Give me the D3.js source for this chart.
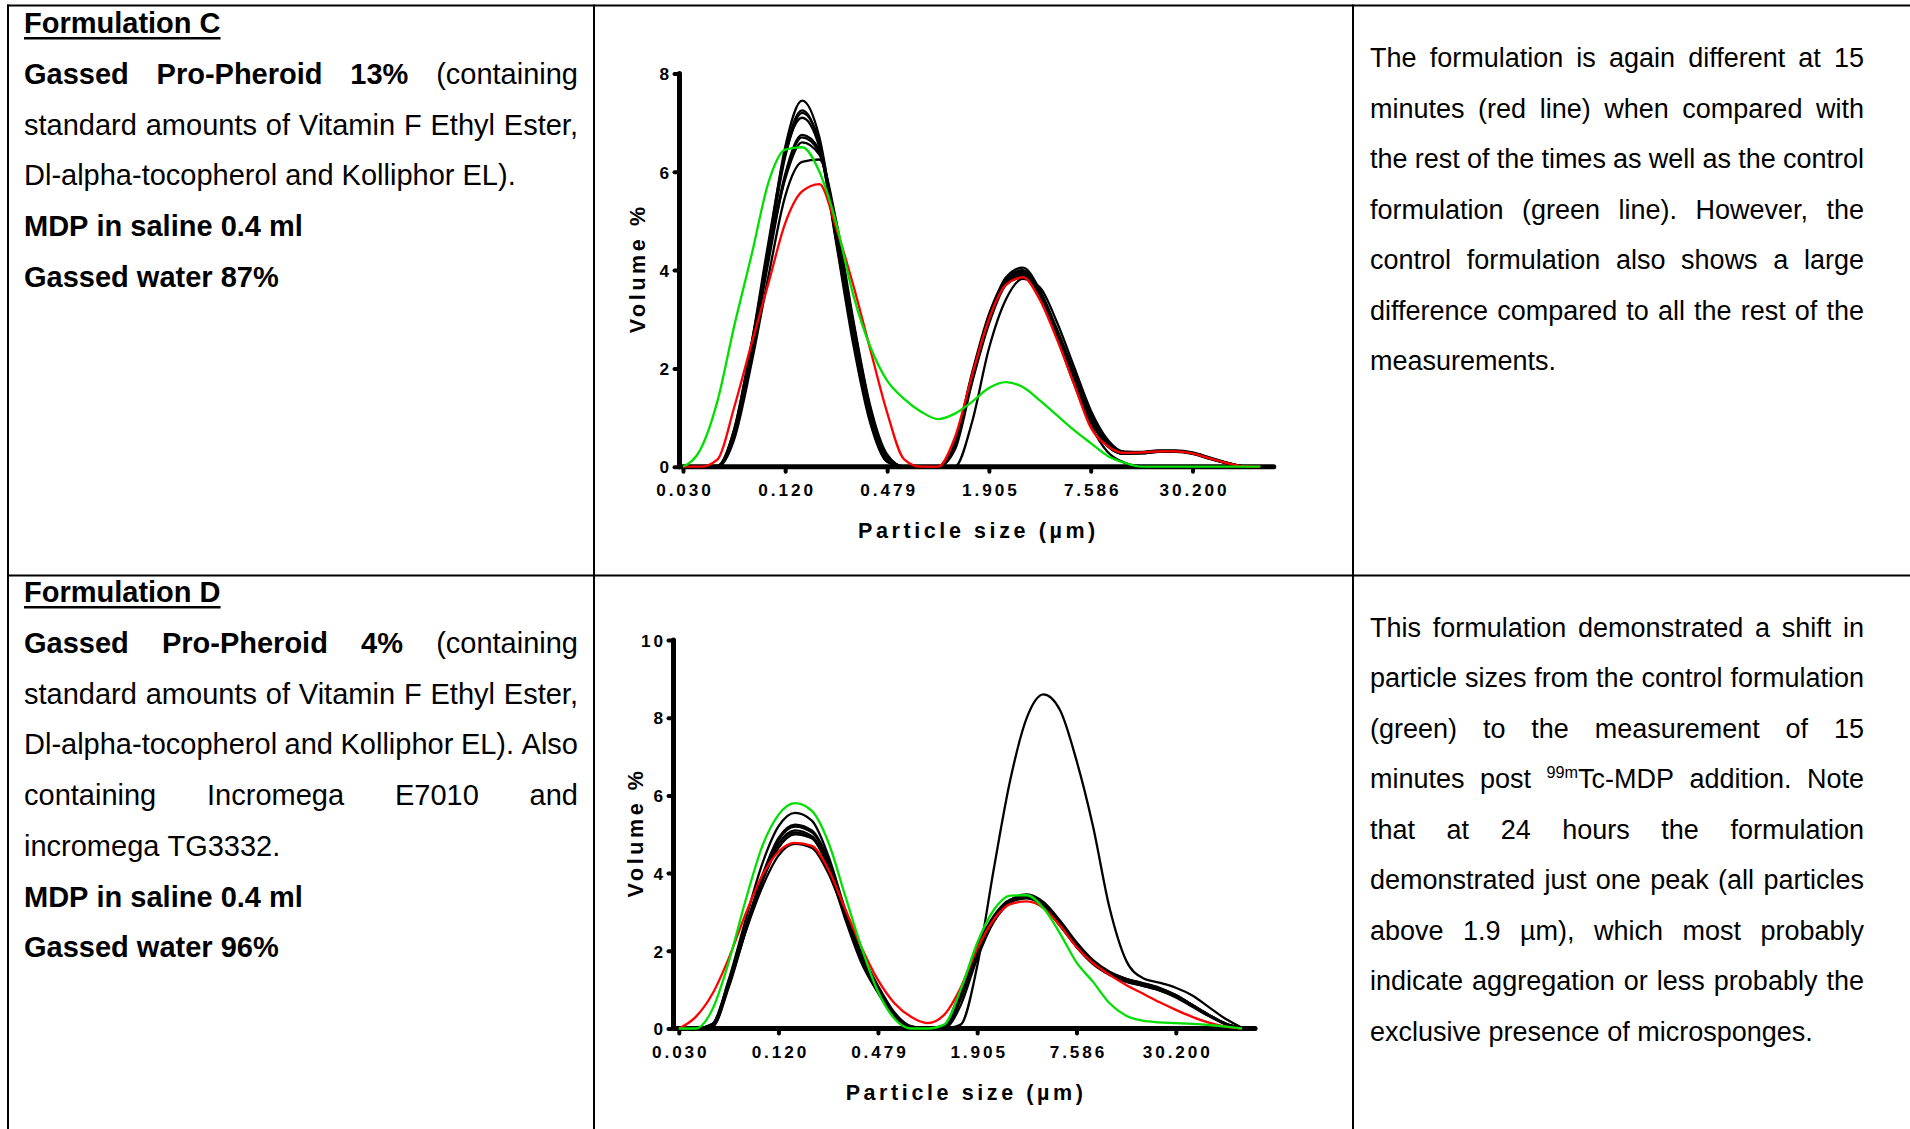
<!DOCTYPE html>
<html><head><meta charset="utf-8">
<script src="https://cdn.jsdelivr.net/npm/d3@7"></script>
<style>html,body{margin:0;padding:0;background:#fff;}svg{display:block;}</style>
</head><body>
<svg id="c" width="1910" height="1129"></svg>
<script>
// ---------------- DATA ----------------
// particle size classes (µm)
const sizes = [0.030,0.038,0.048,0.060,0.076,0.096,0.120,0.151,0.191,0.240,0.302,0.380,0.479,0.603,0.759,0.955,1.202,1.514,1.905,2.399,3.020,3.802,4.786,6.026,7.586,9.550,12.023,15.136,19.055,23.988,30.200,38.019,47.863,60.256,75.858];
const xTicks = [0.030,0.120,0.479,1.905,7.586,30.200];
const xTickLabels = ["0.030","0.120","0.479","1.905","7.586","30.200"];
const c1YTicks = [0,2,4,6,8];
const c2YTicks = [0,2,4,6,8,10];

// Formulation C (volume %)
const c1Black1 = [0,0,0,0.6,2.3,4.5,6.5,7.45,6.7,4.7,2.6,0.95,0.1,0,0,0,0.45,1.85,3.05,3.85,4.05,3.6,2.8,1.9,1.05,0.5,0.3,0.3,0.33,0.33,0.29,0.19,0.09,0.01,0];
const c1Black2 = [0,0,0.02,0.75,2.5,4.6,6.4,7.25,6.55,4.55,2.5,0.9,0.1,0,0,0,0.5,1.9,3.1,3.8,4.0,3.55,2.75,1.85,1.0,0.45,0.28,0.29,0.32,0.32,0.28,0.18,0.08,0.01,0];
const c1Black3 = [0,0,0,0.65,2.35,4.4,6.3,7.2,6.6,4.75,2.7,1.05,0.15,0,0,0,0.4,1.75,2.95,3.75,3.95,3.55,2.75,1.85,1.0,0.48,0.28,0.28,0.31,0.31,0.27,0.17,0.08,0.01,0];
const c1Black4 = [0,0,0,0.7,2.4,4.3,5.95,6.75,6.45,4.8,2.85,1.15,0.2,0,0,0,0.42,1.8,3.0,3.72,3.92,3.5,2.7,1.8,0.95,0.42,0.26,0.27,0.3,0.31,0.27,0.17,0.08,0.01,0];
const c1Black5 = [0,0,0,0.6,2.25,4.2,5.9,6.7,6.4,4.9,2.95,1.2,0.2,0,0,0,0.35,1.7,2.9,3.7,3.9,3.55,2.8,1.95,1.1,0.52,0.3,0.29,0.31,0.31,0.27,0.17,0.08,0.01,0];
const c1Black6 = [0,0,0,0.75,2.5,4.35,5.85,6.6,6.35,4.85,2.9,1.2,0.22,0,0,0,0.48,1.85,3.0,3.7,3.85,3.45,2.65,1.78,0.95,0.42,0.26,0.27,0.3,0.3,0.26,0.16,0.07,0.01,0];
const c1Black7 = [0,0,0,0.55,2.1,3.9,5.5,6.2,6.25,5.0,3.0,1.25,0.25,0,0,0,0,0.9,2.4,3.4,3.82,3.65,2.95,2.05,1.15,0.55,0.3,0.29,0.31,0.31,0.27,0.17,0.08,0.01,0];
const c1Black8 = [0,0,0,0.7,2.45,4.5,6.35,7.1,6.5,4.6,2.6,0.95,0.12,0,0,0,0.45,1.8,3.0,3.75,3.98,3.5,2.65,1.7,0.85,0.3,0.08,0.01,0,0,0,0,0,0,0];
const c1Red = [0,0,0.15,1.2,2.5,3.75,4.95,5.6,5.75,4.85,3.7,2.4,1.1,0.15,0,0,0.6,1.85,3.0,3.7,3.85,3.4,2.6,1.7,0.8,0.42,0.28,0.29,0.31,0.31,0.27,0.17,0.08,0.01,0];
const c1Green = [0,0.35,1.35,2.85,4.3,5.8,6.45,6.5,6.0,4.95,3.5,2.45,1.75,1.38,1.12,0.97,1.08,1.32,1.6,1.72,1.62,1.35,1.05,0.75,0.48,0.22,0.08,0,0,0,0,0,0,0,0];

// Formulation D (volume %)
const c2Black1 = [0,0,0.12,1.25,2.8,4.25,5.2,5.55,5.35,4.45,3.1,1.9,1.0,0.33,0.03,0,0.05,0.9,2.0,2.85,3.3,3.42,3.22,2.72,2.15,1.7,1.42,1.25,1.14,1.02,0.84,0.6,0.35,0.13,0];
const c2Black2 = [0,0,0.08,1.15,2.6,3.95,4.9,5.25,5.1,4.35,3.05,1.9,1.05,0.36,0.04,0,0.02,0.85,1.95,2.8,3.28,3.4,3.2,2.72,2.18,1.72,1.43,1.26,1.15,1.03,0.85,0.6,0.34,0.12,0];
const c2Black3 = [0,0,0.1,1.2,2.6,3.9,4.85,5.2,5.05,4.3,3.0,1.85,1.0,0.34,0.03,0,0.06,0.95,2.05,2.85,3.3,3.45,3.25,2.75,2.2,1.74,1.45,1.28,1.17,1.05,0.86,0.61,0.35,0.13,0];
const c2Black4 = [0,0,0.06,1.1,2.5,3.85,4.75,5.1,4.95,4.2,2.95,1.8,0.95,0.31,0.02,0,0,0.75,1.9,2.75,3.25,3.38,3.2,2.7,2.12,1.68,1.4,1.22,1.1,0.98,0.8,0.56,0.32,0.11,0];
const c2Black5 = [0,0,0.1,1.15,2.55,3.8,4.65,5.0,4.9,4.2,2.95,1.9,1.05,0.39,0.05,0,0.08,1.0,2.1,2.9,3.32,3.4,3.18,2.65,2.1,1.66,1.38,1.2,1.1,0.99,0.82,0.58,0.33,0.12,0];
const c2Black6 = [0,0,0.12,1.2,2.5,3.65,4.45,4.75,4.65,4.0,2.95,1.95,1.1,0.41,0.06,0,0.04,0.9,2.0,2.8,3.25,3.35,3.15,2.65,2.12,1.7,1.42,1.24,1.12,1.0,0.82,0.58,0.33,0.12,0];
const c2Black7 = [0,0,0.05,1.05,2.5,3.8,4.75,5.05,4.9,4.15,2.85,1.7,0.92,0.29,0,0,0,0.6,1.8,2.75,3.25,3.42,3.25,2.78,2.22,1.76,1.46,1.28,1.16,1.04,0.86,0.6,0.35,0.13,0];
const c2Black24h = [0,0,0,0,0,0,0,0,0,0,0,0,0,0,0,0,0,0.1,1.6,4.1,6.4,8.0,8.6,8.2,6.9,5.2,3.1,1.75,1.3,1.18,1.05,0.85,0.55,0.25,0.02];
const c2Red = [0,0.3,0.9,1.8,2.95,3.95,4.55,4.78,4.7,4.1,3.1,2.1,1.25,0.65,0.3,0.14,0.35,1.05,2.05,2.8,3.2,3.27,3.1,2.65,2.1,1.68,1.38,1.12,0.9,0.68,0.48,0.3,0.15,0.05,0];
const c2Green = [0,0,0.5,1.7,3.3,4.7,5.5,5.8,5.6,4.8,3.45,2.1,0.95,0.25,0,0,0.1,1.0,2.2,3.05,3.42,3.43,3.1,2.45,1.7,1.2,0.65,0.33,0.2,0.16,0.14,0.12,0.09,0.05,0];

// Text content (# bold line, _ underline, = justified, *word bold, ^sup^rest superscript)
const leftC = [
  "#_Formulation C",
  "=*Gassed *Pro-Pheroid *13% (containing",
  "=standard amounts of Vitamin F Ethyl Ester,",
  "Dl-alpha-tocopherol and Kolliphor EL).",
  "#MDP in saline 0.4 ml",
  "#Gassed water 87%"
];
const rightC = [
  "=The formulation is again different at 15",
  "=minutes (red line) when compared with",
  "=the rest of the times as well as the control",
  "=formulation (green line).  However, the",
  "=control formulation also shows a large",
  "=difference compared to all the rest of the",
  "measurements."
];
const leftD = [
  "#_Formulation D",
  "=*Gassed *Pro-Pheroid *4% (containing",
  "=standard amounts of Vitamin F Ethyl Ester,",
  "=Dl-alpha-tocopherol and Kolliphor EL). Also",
  "=containing Incromega E7010 and",
  "incromega TG3332.",
  "#MDP in saline 0.4 ml",
  "#Gassed water 96%"
];
const rightD = [
  "=This formulation demonstrated a shift in",
  "=particle sizes from the control formulation",
  "=(green) to the measurement of 15",
  "=minutes post ^99m^Tc-MDP addition. Note",
  "=that at 24 hours the formulation",
  "=demonstrated just one peak (all particles",
  "=above 1.9 µm), which most probably",
  "=indicate aggregation or less probably the",
  "exclusive presence of microsponges."
];

// ---------------- DRAWING ----------------
const FONT = "'Liberation Sans', Arial, Helvetica, sans-serif";
const svg = d3.select("#c");
svg.append("rect").attr("width",1910).attr("height",1129).attr("fill","#fff");

const grid = svg.append("g").attr("stroke","#000").attr("stroke-width",2);
grid.append("line").attr("x1",7).attr("x2",1910).attr("y1",5.5).attr("y2",5.5);
grid.append("line").attr("x1",8).attr("x2",8).attr("y1",4.5).attr("y2",1129);
grid.append("line").attr("x1",594).attr("x2",594).attr("y1",4.5).attr("y2",1129);
grid.append("line").attr("x1",1353).attr("x2",1353).attr("y1",4.5).attr("y2",1129);
grid.append("line").attr("x1",7).attr("x2",1910).attr("y1",575.5).attr("y2",575.5);

function para(lines, x0, x1, y0, lh, fs) {
  const g = svg.append("g").attr("font-family", FONT).attr("font-size", fs).attr("fill", "#000");
  lines.forEach((raw, i) => {
    let s = raw, bold = false, under = false, just = false;
    while (/^[#_=]/.test(s)) {
      const c = s[0];
      if (c === "#") bold = true;
      if (c === "_") under = true;
      if (c === "=") just = true;
      s = s.slice(1);
    }
    const y = y0 + i * lh;
    const words = s.split(" ").filter(w => w.length);
    const nodes = words.map(w0 => {
      let w = w0, b = bold;
      if (w[0] === "*") { b = true; w = w.slice(1); }
      const t = g.append("text").attr("y", y).attr("font-weight", b ? "bold" : "normal");
      if (w[0] === "^") {
        const parts = w.slice(1).split("^");
        t.append("tspan").attr("font-size", fs * 0.6).attr("dy", -fs * 0.38).text(parts[0]);
        t.append("tspan").attr("dy", fs * 0.38).text(parts[1]);
      } else t.text(w);
      return t;
    });
    const widths = nodes.map(n => n.node().getComputedTextLength());
    const total = d3.sum(widths);
    const gap = (just && nodes.length > 1) ? (x1 - x0 - total) / (nodes.length - 1) : fs * 0.278;
    let x = x0;
    nodes.forEach((n, j) => { n.attr("x", x); x += widths[j] + gap; });
    if (under) {
      g.append("line").attr("x1", x0).attr("x2", x - gap).attr("y1", y + 5).attr("y2", y + 5)
        .attr("stroke", "#000").attr("stroke-width", 2.6);
    }
  });
}

para(leftC, 24, 578, 33.3, 50.7, 29);
para(rightC, 1370, 1864, 67, 50.5, 27);
para(leftD, 24, 578, 602.3, 50.7, 29);
para(rightD, 1370, 1864, 636.5, 50.55, 27);

const X_END = 91;
const TFS = 17.2;  // tick label font size
const TLS = 2.9;   // tick label letter spacing
const TITLE_FS = 21.5;
const TITLE_LS = 3.6;

function chart(cfg) {
  const g = svg.append("g");
  const x = d3.scaleLog().domain([xTicks[0], xTicks[xTicks.length - 1]])
    .range([cfg.x0, cfg.x0 + cfg.step * (xTicks.length - 1)]);
  const y = d3.scaleLinear().domain([0, cfg.yMax]).range([cfg.yZero, cfg.yTop]);

  // x axis
  const xa = g.append("g").attr("transform", `translate(0,${cfg.yZero})`)
    .call(d3.axisBottom(x).tickValues(xTicks).tickFormat((d, i) => xTickLabels[i]).tickSize(5).tickSizeOuter(0));
  xa.select(".domain").remove();
  xa.attr("font-family", FONT).attr("font-size", TFS).attr("font-weight", "bold");
  xa.selectAll(".tick line").attr("stroke", "#000").attr("stroke-width", 4).attr("stroke-linecap", "round");
  xa.selectAll(".tick text").attr("fill", "#000").attr("y", 23.5).attr("dy", "0.36em")
    .attr("dx", TLS / 2).attr("letter-spacing", TLS);
  g.append("line").attr("x1", cfg.axisX).attr("x2", x(X_END)).attr("y1", cfg.yZero).attr("y2", cfg.yZero)
    .attr("stroke", "#000").attr("stroke-width", 5).attr("stroke-linecap", "round");

  // y axis
  const ya = g.append("g").attr("transform", `translate(${cfg.axisX},0)`)
    .call(d3.axisLeft(y).tickValues(cfg.yTicks).tickSize(5).tickSizeOuter(0));
  ya.select(".domain").remove();
  ya.attr("font-family", FONT).attr("font-size", TFS).attr("font-weight", "bold");
  ya.selectAll(".tick line").attr("stroke", "#000").attr("stroke-width", 4).attr("stroke-linecap", "round");
  ya.selectAll(".tick text").attr("fill", "#000").attr("x", -7.5).attr("dy", "0.36em").attr("letter-spacing", TLS);
  g.append("line").attr("x1", cfg.axisX).attr("x2", cfg.axisX).attr("y1", y(0)).attr("y2", y(cfg.yMax))
    .attr("stroke", "#000").attr("stroke-width", 5).attr("stroke-linecap", "round");

  // titles
  const cx = (cfg.axisX + x(X_END)) / 2;
  g.append("text").attr("x", cx + TITLE_LS / 2).attr("y", cfg.yZero + 63.5).attr("dy", "0.36em")
    .attr("text-anchor", "middle").attr("font-family", FONT).attr("font-size", TITLE_FS).attr("font-weight", "bold")
    .attr("letter-spacing", TITLE_LS).attr("fill", "#000").text("Particle size (µm)");
  const cy = (y(0) + y(cfg.yMax)) / 2;
  g.append("text").attr("transform", `translate(${cfg.titleX},${cy}) rotate(-90)`).attr("dx", TITLE_LS / 2)
    .attr("text-anchor", "middle").attr("dy", "0.36em").attr("font-family", FONT).attr("font-size", TITLE_FS)
    .attr("font-weight", "bold").attr("letter-spacing", TITLE_LS).attr("fill", "#000").text("Volume %");

  // curves
  const line = d3.line().x((d, i) => x(sizes[i])).y(d => y(d)).curve(d3.curveMonotoneX);
  const series = cfg.blacks.map(v => ({ v, c: "#000", w: 2.3 }))
    .concat([{ v: cfg.red, c: "#ff0000", w: 2.3 }, { v: cfg.green, c: "#00e000", w: 2.3 }]);
  g.append("g").attr("fill", "none").selectAll("path").data(series).join("path")
    .attr("d", d => line(d.v)).attr("stroke", d => d.c).attr("stroke-width", d => d.w)
    .attr("stroke-linejoin", "round");
}

chart({
  x0: 683, step: 101.9, axisX: 679.5, yZero: 466.7, yTop: 73.5, yMax: 8, yTicks: c1YTicks, titleX: 637,
  blacks: [c1Black1, c1Black2, c1Black3, c1Black4, c1Black5, c1Black6, c1Black7, c1Black8],
  red: c1Red, green: c1Green
});
chart({
  x0: 678.8, step: 99.4, axisX: 673.5, yZero: 1028.5, yTop: 640, yMax: 10, yTicks: c2YTicks, titleX: 635,
  blacks: [c2Black1, c2Black2, c2Black3, c2Black4, c2Black5, c2Black6, c2Black7, c2Black24h],
  red: c2Red, green: c2Green
});
</script>
</body></html>
